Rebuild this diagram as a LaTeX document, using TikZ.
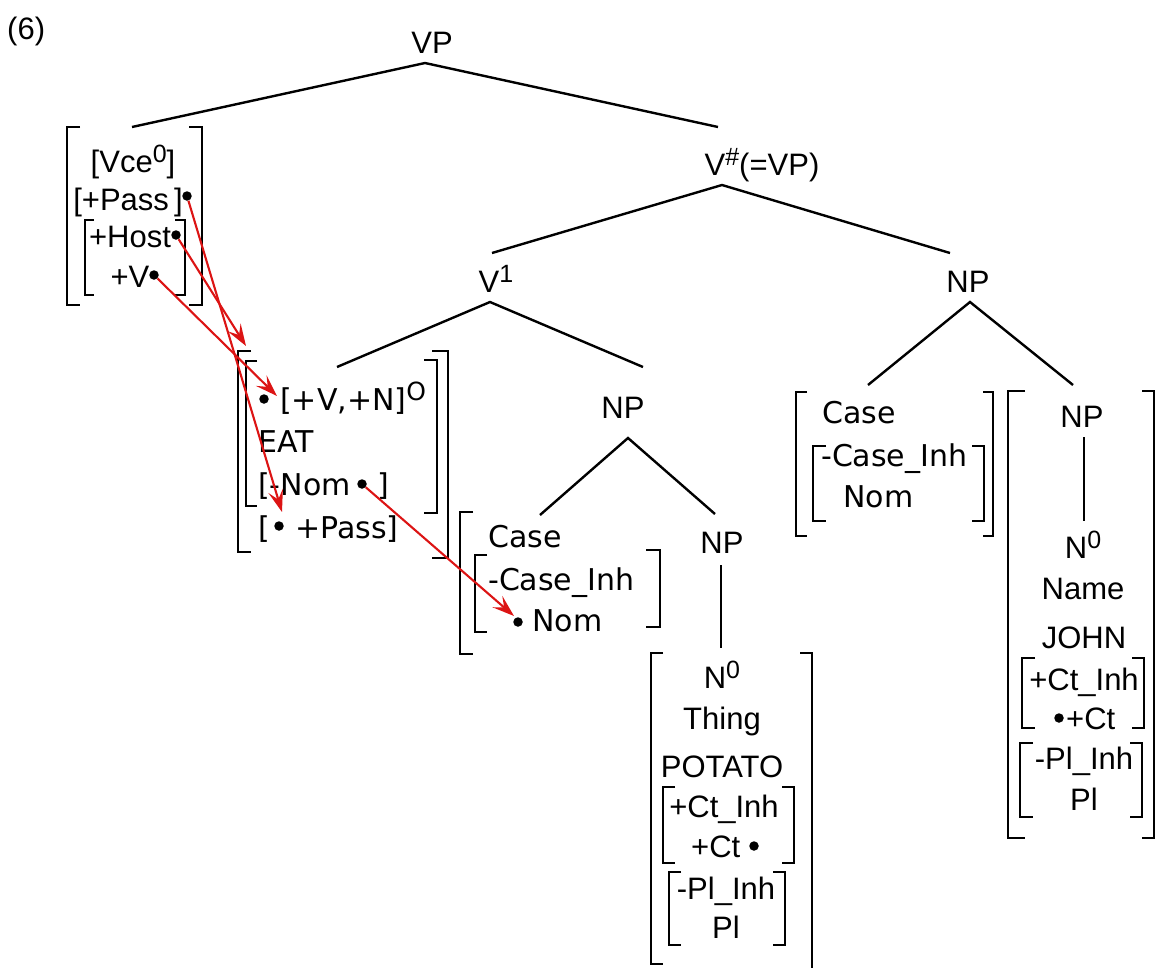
\documentclass[tikz,border=0pt]{standalone}
\usepackage{fontspec}
\setmainfont{Liberation Sans}
\newfontfamily\dvf{DejaVu Sans}
\usetikzlibrary{arrows.meta}
\definecolor{arrred}{RGB}{220,20,20}
\newcommand\sups[1]{\raisebox{10pt}{\fontsize{25}{25}\selectfont #1}}
\newcommand\brL[4]{\draw[brk] (#1+#4,#2) -- (#1,#2) -- (#1,#3) -- (#1+#4,#3);}
\newcommand\brR[4]{\draw[brk] (#1-#4,#2) -- (#1,#2) -- (#1,#3) -- (#1-#4,#3);}
\begin{document}
\begin{tikzpicture}[x=1pt,y=-1pt,
  hv/.style={font=\fontsize{31}{36}\selectfont, inner sep=0pt, anchor=base},
  hvw/.style={hv, anchor=base west},
  dv/.style={font=\dvf\fontsize{30}{34}\selectfont, inner sep=0pt, anchor=base west},
  tree/.style={line width=2.4pt},
  brk/.style={line width=2.5pt},
  dot/.style={circle, fill=black, inner sep=0pt, minimum size=9.5pt},
  mv/.style={draw=arrred, line width=2.1pt, -{Stealth[length=22pt,width=15pt,inset=9pt]}}]
\useasboundingbox (0,0) rectangle (1157,967);

% ---------- labels ----------
\node[hvw] (n6) at (7,39) {(6)};
\node[hv] (vp) at (432,53) {VP};
\node[hv] (vh) at (762,175) {V\sups{\#}(=VP)};
\node[hv] (v1) at (496,292) {V\sups{1}};
\node[hv] (npr) at (968,292) {NP};
\node[hv] (npm) at (623,418) {NP};
\node[hv] (np2) at (722,553) {NP};

% ---------- tree lines ----------
\coordinate (vpA) at (425,63);
\coordinate (vceT) at (132,127);
\coordinate (vhT) at (718,127);
\draw[tree] (vceT) -- (vpA) -- (vhT);
\coordinate (vhA) at (722,185);
\coordinate (v1T) at (492,253);
\coordinate (nprT) at (950,253);
\draw[tree] (v1T) -- (vhA) -- (nprT);
\coordinate (v1A) at (490,302);
\coordinate (eatT) at (337,367);
\coordinate (npmT) at (643,367);
\draw[tree] (eatT) -- (v1A) -- (npmT);
\coordinate (nprA) at (970,302);
\coordinate (case2T) at (868,385);
\coordinate (npjT) at (1073,385);
\draw[tree] (case2T) -- (nprA) -- (npjT);
\coordinate (npmA) at (628,438);
\coordinate (case1T) at (540,515);
\coordinate (np2T) at (715,514);
\draw[tree] (case1T) -- (npmA) -- (np2T);
\coordinate (np2A) at (721,565);
\coordinate (n0aT) at (721,648);
\draw[tree] (np2A) -- (n0aT);
\coordinate (npjA) at (1084,437);
\coordinate (n0bT) at (1084,521);
\draw[tree] (npjA) -- (n0bT);

% ---------- left box ----------
\brL{67}{127}{305}{13}
\brR{202}{127}{305}{13}
\brL{85}{220}{295}{9}
\brR{185}{220}{295}{10}
\node[hv] (vce) at (133,172) {[Vce\sups{0}]};
\node[hv] (pass1) at (128,210) {[+Pass\,]};
\node[dot] (dpass1) at (187,196) {};
\node[hv] (host) at (130,247) {+Host};
\node[dot] (dhost) at (176,235) {};
\node[hv] (pv) at (130,287) {+V};
\node[dot] (dpv) at (154,275) {};

% ---------- EAT box ----------
\brL{238}{351}{552}{13}
\brR{448}{351}{558}{16}
\brL{246}{361}{506}{11}
\brR{437}{360}{513}{13}
\node[dot] (dvn) at (264,399) {};
\node[dv] (vn) at (280,410) {[+V,+N]\sups{O}};
\node[dv] (eat) at (258,452) {EAT};
\node[dv] (nom1) at (258,495) {[-Nom};
\node[dot] (dnom1) at (362,484) {};
\node[dv] (nom1r) at (377,495) {]};
\node[dv] (pass2l) at (258,538) {[};
\node[dot] (dpass2) at (279,526) {};
\node[dv] (pass2) at (295,538) {+Pass]};

% ---------- middle Case box ----------
\brL{460}{512}{654}{13}
\brL{475}{555}{632}{12}
\brR{660}{550}{627}{14}
\node[dv] (case1) at (488,547) {Case};
\node[dv] (cinh1) at (488,590) {-Case\_Inh};
\node[dot] (dnom2) at (518,622) {};
\node[dv] (nom2) at (532,631) {Nom};

% ---------- POTATO box ----------
\brL{651}{653}{964}{12}
\brR{812}{653}{975}{12}
\brL{663}{787}{863}{12}
\brR{794}{787}{863}{12}
\brL{669}{872}{945}{12}
\brR{785}{872}{945}{12}
\node[hv] (n0a) at (722,688) {N\sups{0}};
\node[hv] (thing) at (722,729) {Thing};
\node[hv] (potato) at (722,777) {POTATO};
\node[hv] (ctinh1) at (724,817) {+Ct\_Inh};
\node[hvw] (ct1) at (691,857) {+Ct};
\node[dot] (dct1) at (754,846) {};
\node[hv] (plinh1) at (726,899) {-Pl\_Inh};
\node[hv] (pl1) at (726,938) {Pl};

% ---------- right Case box ----------
\brL{796}{392}{536}{11}
\brR{993}{392}{536}{10}
\brL{813}{446}{521}{13}
\brR{984}{446}{521}{12}
\node[dv] (case2) at (822,423) {Case};
\node[dv] (cinh2) at (821,466) {-Case\_Inh};
\node[dv] (nom3) at (843,507) {Nom};

% ---------- JOHN box ----------
\brL{1008}{391}{838}{17}
\brR{1154}{391}{838}{12}
\brL{1022}{658}{728}{13}
\brR{1144}{658}{728}{12}
\brL{1020}{743}{817}{13}
\brR{1142}{743}{817}{12}
\node[hv] (npj) at (1082,427) {NP};
\node[hv] (n0b) at (1083,558) {N\sups{0}};
\node[hv] (name) at (1083,599) {Name};
\node[hv] (john) at (1084,648) {JOHN};
\node[hv] (ctinh2) at (1084,690) {+Ct\_Inh};
\node[dot] (dct2) at (1059,718) {};
\node[hvw] (ct2) at (1066,729) {+Ct};
\node[hv] (plinh2) at (1084,769) {-Pl\_Inh};
\node[hv] (pl2) at (1084,810) {Pl};

% ---------- movement arrows ----------
\coordinate (tipPass) at (282,512);
\coordinate (tipHost) at (246,346);
\coordinate (tipV) at (277,396);
\coordinate (tipNom) at (514,616);
\draw[mv] (dpass1) -- (tipPass);
\draw[mv] (dhost) -- (tipHost);
\draw[mv] (dpv) -- (tipV);
\draw[mv] (dnom1) -- (tipNom);
\end{tikzpicture}
\end{document}
